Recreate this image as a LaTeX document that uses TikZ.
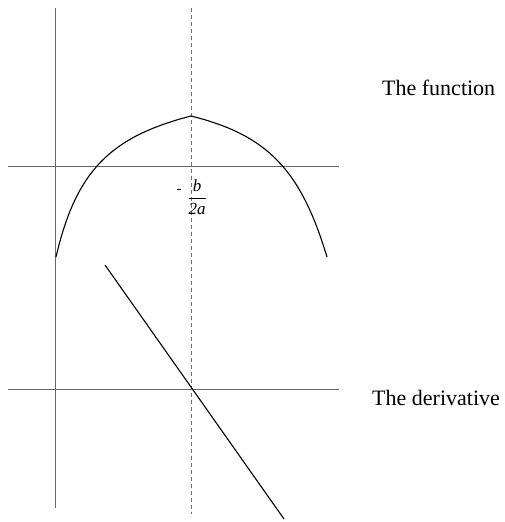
\documentclass[tikz,border=0pt]{standalone}
\usepackage{amsmath}
\usepackage{fontspec}
\setmainfont{Liberation Serif}
\begin{document}
\begin{tikzpicture}[x=1pt,y=-1pt,
  axisline/.style={draw=black!60,line width=0.6pt},
  symline/.style={draw=black!55,line width=0.6pt,dash pattern=on 4pt off 3pt},
  graphline/.style={draw=black,line width=1.1pt},
  lbl/.style={inner sep=0pt,font=\fontsize{22}{26}\selectfont}]
\useasboundingbox (0,0) rectangle (504,522);
% axes
\coordinate (vtop) at (55,8);
\coordinate (vbot) at (55,508);
\coordinate (h1l) at (8,166);
\coordinate (h1r) at (339,166);
\coordinate (h2l) at (8,389);
\coordinate (h2r) at (339,389);
\coordinate (dtop) at (191,8);
\coordinate (dbot) at (191,514);
\draw[axisline] (vtop) -- (vbot);
\draw[axisline] (h1l) -- (h1r);
\draw[axisline] (h2l) -- (h2r);
\draw[symline] (dtop) -- (dbot);
% function
\coordinate (fleft) at (56,257);
\coordinate (peak) at (191,116);
\coordinate (fright) at (327,257);
\draw[graphline] (fleft) .. controls (76,171) and (110,137) .. (peak)
                        .. controls (267,135) and (300.5,169) .. (fright);
% derivative
\coordinate (ltop) at (105,265);
\coordinate (lbot) at (284,519);
\draw[graphline] (ltop) -- (lbot);
% labels
\node[lbl,anchor=base west] (f) at (382,95) {The function};
\node[lbl,anchor=base west] (d) at (372,405) {The derivative};
\node[inner sep=0pt,anchor=base,font=\fontsize{17}{20}\selectfont] (frac) at (197,203) {$\dfrac{\textit{b}}{\textit{2a}}$};
\node[inner sep=0pt,font=\fontsize{15}{18}\selectfont] (minus) at (179,191) {-};
\end{tikzpicture}
\end{document}
